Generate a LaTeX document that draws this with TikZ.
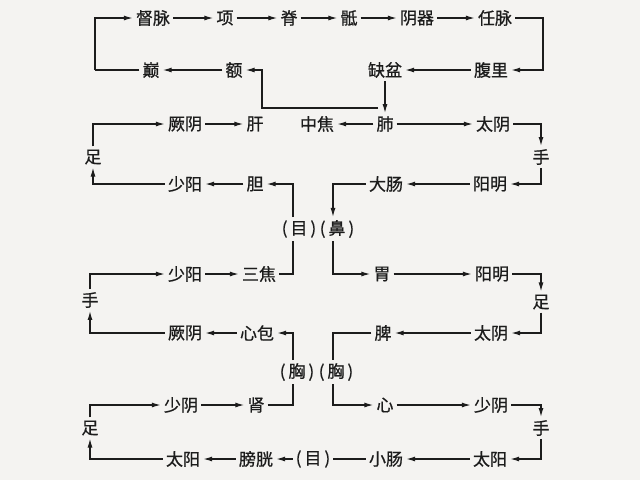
\documentclass[tikz,border=0pt]{standalone}
\usepackage{fontspec}
\setmainfont{Noto Sans CJK SC}[FakeBold=0.8]
\usetikzlibrary{arrows.meta}
\definecolor{ink}{HTML}{1C1C1C}
\definecolor{paper}{HTML}{F4F3F1}
\newcommand{\pb}[1]{(\kern3pt#1\kern3pt)}
\begin{document}
\begin{tikzpicture}[x=1pt,y=-1pt,
  lbl/.style={font=\fontsize{17}{17}\selectfont, text=ink, inner sep=3pt},
  ln/.style={draw=ink, line width=1.2pt},
  arr/.style={ln, -{Latex[length=9pt,width=5pt]}}]
\fill[paper] (0,0) rectangle (640,480);
\useasboundingbox (0,0) rectangle (640,480);
% row 1
\node[lbl] (du) at (153,18) {督脉};
\node[lbl] (xiang) at (225,18) {项};
\node[lbl] (ji) at (289,18) {脊};
\node[lbl] (di) at (349,18) {骶};
\node[lbl] (yq) at (417,18) {阴器};
\node[lbl] (ren) at (495,18) {任脉};
% row 2
\node[lbl] (dian) at (151,70) {巅};
\node[lbl] (e) at (234,70) {额};
\node[lbl] (qp) at (385,70) {缺盆};
\node[lbl] (fl) at (491,70) {腹里};
% row 3
\node[lbl] (jy1) at (185,124) {厥阴};
\node[lbl] (gan) at (255,124) {肝};
\node[lbl] (zj) at (317,124) {中焦};
\node[lbl] (fei) at (385,124) {肺};
\node[lbl] (ty1) at (493,124) {太阴};
% row 4
\node[lbl] (sy1) at (185,184) {少阳};
\node[lbl] (dan) at (255,184) {胆};
\node[lbl] (dc) at (386,184) {大肠};
\node[lbl] (ym1) at (490,184) {阳明};
\node[lbl] (zuL1) at (93,157) {足};
\node[lbl] (shouR1) at (541,157) {手};
% row 5
\node[lbl] (mu1) at (299,229) {\pb{目}};
\node[lbl] (bi) at (337,229) {\pb{鼻}};
% row 6
\node[lbl] (sy2) at (185,274) {少阳};
\node[lbl] (sj) at (259,274) {三焦};
\node[lbl] (wei) at (382,274) {胃};
\node[lbl] (ym2) at (492,274) {阳明};
\node[lbl] (shouL2) at (90,300) {手};
\node[lbl] (zuR2) at (541,302) {足};
% row 7
\node[lbl] (jy2) at (185,333) {厥阴};
\node[lbl] (xb) at (257,333) {心包};
\node[lbl] (pi) at (383,333) {脾};
\node[lbl] (ty2) at (491,333) {太阴};
% row 8
\node[lbl] (xiong1) at (297,372) {\pb{胸}};
\node[lbl] (xiong2) at (336,372) {\pb{胸}};
% row 9
\node[lbl] (sy3) at (181,405) {少阴};
\node[lbl] (shen) at (256,405) {肾};
\node[lbl] (xin) at (385,405) {心};
\node[lbl] (sy4) at (491,405) {少阴};
\node[lbl] (zuL3) at (90,428) {足};
\node[lbl] (shouR3) at (541,428) {手};
% row 10
\node[lbl] (tyang1) at (183,459) {太阳};
\node[lbl] (pg) at (256,459) {膀胱};
\node[lbl] (mu2) at (313,459) {\pb{目}};
\node[lbl] (xc) at (386,459) {小肠};
\node[lbl] (tyang2) at (490,459) {太阳};
% helper coordinates
\coordinate (cL0) at (95,0);
\coordinate (cR) at (543,0);
\coordinate (vx1) at (293,0);
\coordinate (vx2) at (333,0);
\coordinate (j1) at (378,108);
\coordinate (k) at (262,108);
% row 1 - 2
\draw[arr] (du) -- (xiang);
\draw[arr] (xiang) -- (ji);
\draw[arr] (ji) -- (di);
\draw[arr] (di) -- (yq);
\draw[arr] (yq) -- (ren);
\draw[arr] (ren.east) -| (fl.east -| cR) -- (fl.east);
\draw[arr] (fl) -- (qp);
\draw[arr] (qp.south) -- (qp.south |- fei.north);
\draw[arr] (j1) -- (k) |- (e.east);
\draw[arr] (e) -- (dian);
\draw[ln] (dian.west) -- (dian.west -| cL0);
\draw[arr] (dian.west -| cL0) |- (du.west);
% rows 3 - 4
\draw[arr] (zuL1.north) |- (jy1.west);
\draw[arr] (jy1) -- (gan);
\draw[arr] (fei) -- (zj);
\draw[arr] (fei) -- (ty1);
\draw[arr] (ty1.east) -| (shouR1.north);
\draw[arr] (shouR1.south) |- (ym1.east);
\draw[arr] (ym1) -- (dc);
\draw[arr] (dc.west) -| (bi.north -| vx2);
\draw[arr] (mu1.north -| vx1) |- (dan.east);
\draw[arr] (dan) -- (sy1);
\draw[arr] (sy1.west) -| (zuL1.south);
% rows 6 - 7
\draw[ln] (sj.east) -| (mu1.south -| vx1);
\draw[arr] (sy2) -- (sj);
\draw[arr] (shouL2.north) |- (sy2.west);
\draw[arr] (bi.south -| vx2) |- (wei.west);
\draw[arr] (wei) -- (ym2);
\draw[arr] (ym2.east) -| (zuR2.north);
\draw[arr] (zuR2.south) |- (ty2.east);
\draw[arr] (ty2) -- (pi);
\draw[ln] (pi.west) -| (xiong2.north -| vx2);
\draw[arr] (xiong1.north -| vx1) |- (xb.east);
\draw[arr] (xb) -- (jy2);
\draw[arr] (jy2.west) -| (shouL2.south);
% rows 9 - 10
\draw[arr] (xiong2.south -| vx2) |- (xin.west);
\draw[arr] (xin) -- (sy4);
\draw[arr] (sy4.east) -| (shouR3.north);
\draw[arr] (shouR3.south) |- (tyang2.east);
\draw[arr] (tyang2) -- (xc);
\draw[ln] (xc) -- (mu2);
\draw[arr] (mu2) -- (pg);
\draw[arr] (pg) -- (tyang1);
\draw[arr] (tyang1.west) -| (zuL3.south);
\draw[arr] (zuL3.north) |- (sy3.west);
\draw[arr] (sy3) -- (shen);
\draw[ln] (shen.east) -| (xiong1.south -| vx1);
\end{tikzpicture}
\end{document}
